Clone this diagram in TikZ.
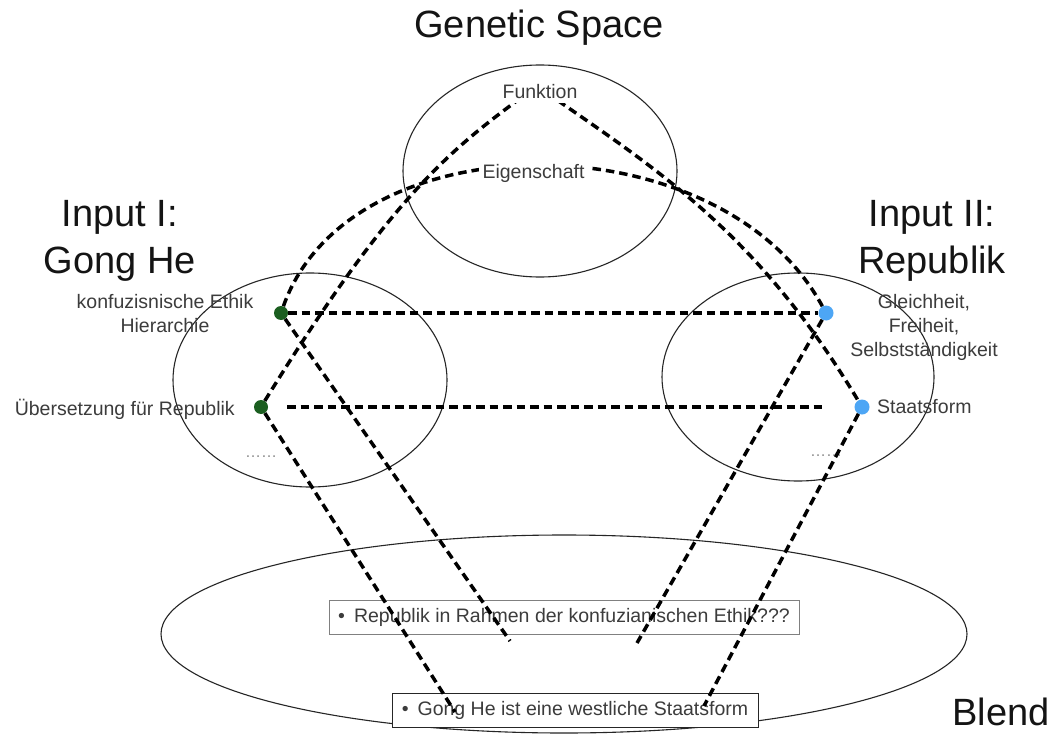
\documentclass[tikz,border=0pt]{standalone}
\usepackage{fontspec}
\setmainfont{Liberation Sans}
\usetikzlibrary{shapes.geometric}
\definecolor{dotgreen}{RGB}{27,94,32}
\definecolor{dotblue}{RGB}{77,166,245}
\definecolor{labelgray}{RGB}{60,60,60}
\begin{document}
\begin{tikzpicture}[x=1pt,y=-1pt,
  spaceellipse/.style={ellipse, draw=black!85, line width=1.1pt, inner sep=0pt},
  headline/.style={font=\fontsize{38}{47}\selectfont, text=black!92, inner sep=0pt, align=center},
  smalltext/.style={font=\fontsize{19.5}{24}\selectfont, text=labelgray, inner sep=0pt, align=center},
  cutlabel/.style={smalltext, fill=white, inner sep=4pt},
  ellipsisdots/.style={font=\fontsize{16}{16}\selectfont, text=black!45, inner sep=0pt},
  link/.style={line width=3.5pt, dash pattern=on 8.5pt off 5pt, black},
  gdot/.style={circle, fill=dotgreen, minimum size=14pt, inner sep=0pt},
  bdot/.style={circle, fill=dotblue, minimum size=15pt, inner sep=0pt},
  blendbox/.style={draw, fill=white, line width=1pt, minimum height=34pt, inner sep=0pt,
                   font=\fontsize{19.5}{24}\selectfont, text=labelgray},
]
\useasboundingbox (0,0) rectangle (1056,735);
\fill[white] (0,0) rectangle (1056,735);

% the four mental spaces
\node[spaceellipse, minimum width=274pt, minimum height=212pt] (generic) at (540,171) {};
\node[spaceellipse, minimum width=274pt, minimum height=214pt] (inputA) at (310,380) {};
\node[spaceellipse, minimum width=272pt, minimum height=208pt] (inputB) at (798,377) {};
\node[spaceellipse, minimum width=806pt, minimum height=198pt] (blend) at (564,634) {};

% statements in the blend
\node[blendbox, draw=black!50, minimum width=470pt] (stmtA) at (564,617)
  {•\hspace{9pt}Republik in Rahmen der konfuzianischen Ethik???};
\node[blendbox, draw=black!85, minimum width=366pt] (stmtB) at (575,710)
  {•\hspace{9pt}Gong He ist eine westliche Staatsform};

% headings
\node[headline, anchor=base] (hGeneric) at (539,38) {Genetic Space};
\node[headline] (hInputA) at (120,241) {Input I:\\Gong He};
\node[headline] (hInputB) at (932,241) {Input II:\\Republik};
\node[headline, anchor=base] (hBlend) at (1001,725) {Blend};

% elements of the input spaces
\node[gdot] (g1) at (281,313) {};
\node[gdot] (g2) at (261,407) {};
\node[bdot] (b1) at (826,313) {};
\node[bdot] (b2) at (862,407) {};

\node[smalltext, anchor=north] (ethik) at (165,294) {konfuzisnische Ethik\\Hierarchie};
\node[smalltext, anchor=base east] (uebers) at (235,415) {Übersetzung für Republik};
\node[smalltext, anchor=north] (werte) at (924,294) {Gleichheit,\\Freiheit,\\Selbstständigkeit};
\node[smalltext, anchor=base west] (staat) at (877,413) {Staatsform};
\node[ellipsisdots, anchor=base] (moreA) at (261,457) {……};
\node[ellipsisdots, anchor=base] (moreB) at (826,456) {……};

% free ends of the projections into the blend
\coordinate (pA1) at (510,641);
\coordinate (pA2) at (455,712);
\coordinate (pB1) at (637,643);
\coordinate (pB2) at (704,706);
\coordinate (fApex) at (537,86);

% cross-space mappings
\draw[link] (g1) -- (b1);
\draw[link, shorten <=19pt, shorten >=31pt] (g2) -- (b2);

% links through the generic space
\draw[link] (g1) .. controls (350,118) and (720,118) .. (b1);
\draw[link] (g2) .. controls (397,187) and (455,146) .. (fApex)
                 .. controls (651,166) and (754,227) .. (b2);

% projections into the blend
\draw[link] (g1) -- (pA1);
\draw[link] (g2) -- (pA2);
\draw[link] (b1) -- (pB1);
\draw[link] (b2) -- (pB2);

% generic-space labels sit on top of the links
\node[cutlabel, anchor=base] (funktion) at (540,99) {Funktion};
\node[cutlabel, anchor=base] (eigenschaft) at (533.5,179) {Eigenschaft};
\end{tikzpicture}
\end{document}
